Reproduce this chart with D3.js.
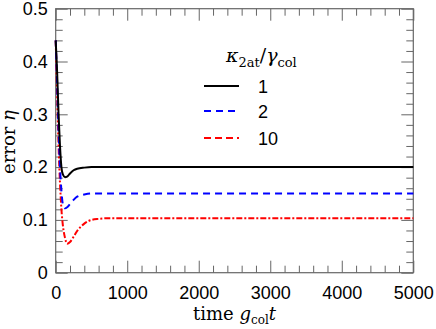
<!DOCTYPE html>
<html>
<head>
<meta charset="utf-8">
<script src="https://cdn.jsdelivr.net/npm/d3@7"></script>
<style>
  body { margin: 0; background: #fff; }
  .tick text { font-family: "Liberation Sans", Arial, sans-serif; }
</style>
</head>
<body>
<div id="chart"></div>
<script>
// time samples (g_col t) and error eta for each kappa_2at/gamma_col
const time = [0, 20, 40, 60, 80, 100, 130, 160, 200, 250, 300, 400, 500, 600, 700, 1000, 2000, 3000, 4000, 5000];
const err1 = [0.44, 0.38, 0.30, 0.24, 0.20, 0.186, 0.181, 0.182, 0.188, 0.194, 0.197, 0.199, 0.2, 0.2, 0.2, 0.2, 0.2, 0.2, 0.2, 0.2];
const err2 = [0.44, 0.36, 0.27, 0.20, 0.155, 0.13, 0.122, 0.124, 0.13, 0.138, 0.144, 0.148, 0.15, 0.15, 0.15, 0.15, 0.15, 0.15, 0.15, 0.15];
const err10 = [0.44, 0.34, 0.24, 0.17, 0.12, 0.09, 0.066, 0.055, 0.058, 0.068, 0.079, 0.093, 0.1, 0.102, 0.103, 0.103, 0.103, 0.103, 0.103, 0.103];
const legendLabels = ["1", "2", "10"];
const xTicks = [0, 1000, 2000, 3000, 4000, 5000];
const yTicks = [0, 0.1, 0.2, 0.3, 0.4, 0.5];

const W = 436, H = 329;
const margins = {top: 8.7, bottom: 56.3, left: 55.7, right: 22.7};
const width = W - margins.left - margins.right;
const height = H - margins.top - margins.bottom;
const serif = '"DejaVu Serif", "Liberation Serif", serif';

const svgRoot = d3.select('#chart').append('svg').attr('width', W).attr('height', H);
const svg = svgRoot.append('g').attr('transform', `translate(${margins.left}, ${margins.top})`);

const x = d3.scaleLinear().domain([0, 5000]).range([0, width]);
const y = d3.scaleLinear().domain([0, 0.5]).range([height, 0]);

const axisColor = '#666';
const xMinor = d3.range(0, 5001, 200).filter(v => v % 1000 !== 0);
const yMinor = d3.range(0, 26).map(i => i * 0.02).filter((v, i) => i % 5 !== 0);

function styleAxis(g) {
    g.select('.domain').remove();
    g.selectAll('.tick line').attr('stroke', axisColor).attr('stroke-width', 1);
    g.selectAll('.tick text').attr('fill', '#000').style('font-size', '18px');
}

// major ticks with labels
svg.append('g').attr('transform', `translate(0, ${height})`)
    .call(d3.axisBottom(x).tickValues(xTicks).tickSize(-12).tickPadding(14).tickFormat(d3.format('d')))
    .call(styleAxis);
svg.append('g')
    .call(d3.axisLeft(y).tickValues(yTicks).tickSize(-12).tickPadding(8).tickFormat(d => d === 0 ? '0' : d3.format('.1f')(d)))
    .call(styleAxis);
// mirrored major ticks
svg.append('g').call(d3.axisTop(x).tickValues(xTicks).tickSize(-12).tickFormat('')).call(styleAxis);
svg.append('g').attr('transform', `translate(${width}, 0)`)
    .call(d3.axisRight(y).tickValues(yTicks).tickSize(-12).tickFormat('')).call(styleAxis);
// minor ticks on all four sides
svg.append('g').attr('transform', `translate(0, ${height})`)
    .call(d3.axisBottom(x).tickValues(xMinor).tickSize(-7).tickFormat('')).call(styleAxis);
svg.append('g').call(d3.axisTop(x).tickValues(xMinor).tickSize(-7).tickFormat('')).call(styleAxis);
svg.append('g').call(d3.axisLeft(y).tickValues(yMinor).tickSize(-7).tickFormat('')).call(styleAxis);
svg.append('g').attr('transform', `translate(${width}, 0)`)
    .call(d3.axisRight(y).tickValues(yMinor).tickSize(-7).tickFormat('')).call(styleAxis);

svg.append('rect')
    .attr('x', 0).attr('y', 0).attr('width', width).attr('height', height)
    .attr('fill', 'none').attr('stroke', axisColor).attr('stroke-width', 1.2);

const series = [
    {label: legendLabels[2], values: err10, color: '#ff0000', dash: '6,2,2,2', legendDash: '7,4'},
    {label: legendLabels[1], values: err2, color: '#0000ff', dash: '7,5', legendDash: '7,5'},
    {label: legendLabels[0], values: err1, color: '#000000', dash: null, legendDash: null}
];

const line = d3.line()
    .x((d, i) => x(time[i]))
    .y(d => y(d))
    .curve(d3.curveMonotoneX);

series.forEach(s => {
    svg.append('path')
        .datum(s.values)
        .attr('fill', 'none')
        .attr('stroke', s.color)
        .attr('stroke-width', 2)
        .attr('stroke-dasharray', s.dash)
        .attr('d', line);
});

// legend
const legend = svgRoot.append('g');
const title = legend.append('text')
    .attr('x', 226).attr('y', 62)
    .style('font-family', serif)
    .style('font-size', '19px');
title.append('tspan').style('font-style', 'italic').text('κ');
title.append('tspan').attr('dy', 5).style('font-size', '13px').text('2at');
title.append('tspan').attr('dy', -5).text('/');
title.append('tspan').style('font-style', 'italic').text('γ');
title.append('tspan').attr('dy', 5).style('font-size', '13px').text('col');

const legendY = [86, 111, 138];
series.slice().reverse().forEach((s, i) => {
    legend.append('line')
        .attr('x1', 204).attr('x2', 239)
        .attr('y1', legendY[i]).attr('y2', legendY[i])
        .attr('stroke', s.color).attr('stroke-width', 2)
        .attr('stroke-dasharray', s.legendDash);
    legend.append('text')
        .attr('x', 258).attr('y', legendY[i] + 7)
        .style('font-family', '"Liberation Sans", Arial, sans-serif')
        .style('font-size', '18px')
        .text(s.label);
});

// axis titles
const xTitle = svgRoot.append('text')
    .attr('x', margins.left + width / 2).attr('y', 320)
    .attr('text-anchor', 'middle')
    .style('font-family', serif)
    .style('font-size', '18px');
xTitle.append('tspan').text('time ');
xTitle.append('tspan').style('font-style', 'italic').text('g');
xTitle.append('tspan').attr('dy', 4).style('font-size', '12px').text('col');
xTitle.append('tspan').attr('dy', -4).style('font-style', 'italic').text('t');

const yTitle = svgRoot.append('text')
    .attr('transform', 'translate(15, 142) rotate(-90)')
    .attr('text-anchor', 'middle')
    .style('font-family', serif)
    .style('font-size', '18px');
yTitle.append('tspan').text('error ');
yTitle.append('tspan').style('font-style', 'italic').text('η');
</script>
</body>
</html>
